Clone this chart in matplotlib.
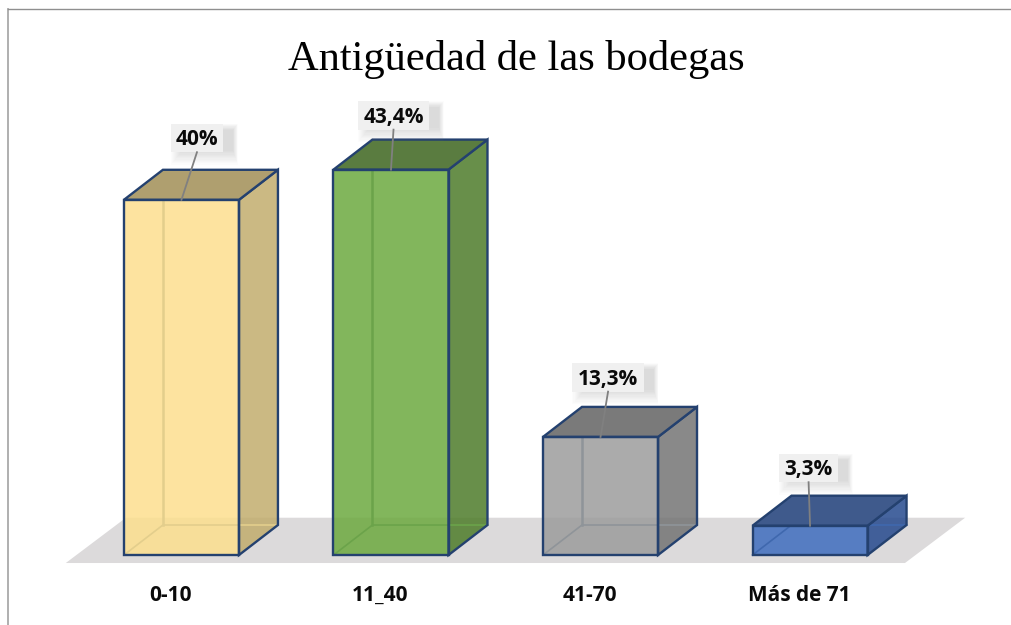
import matplotlib
matplotlib.use('Agg')
import matplotlib.pyplot as plt
from matplotlib.patches import Polygon, Rectangle

categories = ['0-10', '11_40', '41-70', 'Más de 71']
values = [40, 43.4, 13.3, 3.3]
labels = ['40%', '43,4%', '13,3%', '3,3%']
front_colors = ['#FDDF8E', '#6CA93F', '#9C9C9C', '#3F6DBE']
side_colors = ['#C2AD6D', '#4E7C2A', '#747474', '#264A8E']
top_colors = ['#AF9F6F', '#5A7C40', '#7A7A7A', '#3F5A8C']
inner_colors = ['#E3CE8C', '#6BA34A', '#8F9499', '#3F68AE']
edge_color = '#24416F'

half_w = 0.2745
dx = 0.186
dy = 3.38
# where each label sits relative to its bar
label_dx = [0.074, 0.012, 0.036, -0.007]
label_dy = [6.96, 6.1, 6.7, 6.5]
box_half = [0.125, 0.17, 0.17, 0.14]
box_h = 1.6

fig = plt.figure(figsize=(10.11, 6.25), dpi=100)
ax = fig.add_axes([0, 0, 1, 1])
ax.set_xlim(-0.866, 3.959)
ax.set_ylim(-7.88, 62.5)
ax.axis('off')

# chart frame, only left and top show in the crop
ax.plot([0.0078, 0.0078], [0, 0.985], transform=ax.transAxes, color='#A9A9A9', lw=1.3)
ax.plot([0.0078, 1], [0.985, 0.985], transform=ax.transAxes, color='#8F8F8F', lw=1.0)

# floor
ax.add_patch(Polygon([(-0.552, -0.9), (3.453, -0.9), (3.74, 4.2), (-0.265, 4.2)],
                     fc='#DCDADB', ec='none', zorder=1))

for i, v in enumerate(values):
    l, r = i - half_w, i + half_w
    ax.add_patch(Polygon([(r, 0), (r + dx, dy), (r + dx, v + dy), (r, v)],
                         fc=side_colors[i], ec='none', alpha=0.85, zorder=3))
    ax.add_patch(Polygon([(r, 0), (r + dx, dy), (r + dx, v + dy), (r, v)],
                         fc='none', ec=edge_color, lw=1.7, zorder=5))
    ax.add_patch(Polygon([(l, v), (l + dx, v + dy), (r + dx, v + dy), (r, v)],
                         fc=top_colors[i], ec=edge_color, lw=1.7, zorder=5))
    ax.add_patch(Rectangle((l, 0), 2 * half_w, v, fc=front_colors[i], ec='none',
                           alpha=0.85, zorder=3))
    # hidden edges show through the front
    ax.plot([l + dx, l + dx], [dy, v + dy], color=inner_colors[i], lw=1.8, zorder=4)
    ax.plot([l, l + dx, r + dx], [0, dy, dy], color=inner_colors[i], lw=1.2, zorder=4)
    ax.add_patch(Rectangle((l, 0), 2 * half_w, v, fc='none', ec=edge_color, lw=1.7, zorder=5))

    # label box, soft shadow and leader
    tx = i + label_dx[i]
    ty = v + label_dy[i]
    w = box_half[i]
    for k in range(12):
        ax.add_patch(Rectangle((tx - w + 0.005 * k, ty - box_h - 1.4 + 0.14 * k),
                               2 * w + 0.07 - 0.007 * k, 2 * box_h + 1.4 - 0.2 * k,
                               fc='#808080', ec='none', alpha=0.022, zorder=6))
    ax.add_patch(Rectangle((tx - w, ty - box_h), 2 * w, 2 * box_h,
                           fc='#F0F0F0', ec='none', zorder=6.5))
    ax.plot([tx, i], [ty - box_h, v], color='#808080', lw=1.3, zorder=7)
    ax.text(tx, ty - 0.2, labels[i], ha='center', va='center', fontsize=15, fontweight='bold',
            family='Open Sans', color='#0A0A0A', zorder=8)
    ax.text(i - 0.05, -4.55, categories[i], ha='center', va='center', fontsize=15,
            fontweight='bold', family='Open Sans', color='#0A0A0A', zorder=8)

ax.text(0.511, 0.905, 'Antigüedad de las bodegas', transform=ax.transAxes, ha='center',
        va='center', fontsize=30.6, family='Liberation Serif', color='black')

fig.savefig('out.png', dpi=100)
